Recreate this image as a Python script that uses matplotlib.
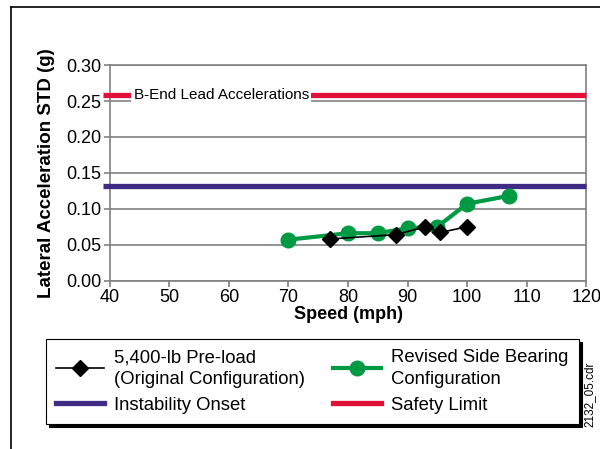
import matplotlib
matplotlib.use("Agg")
import matplotlib.pyplot as plt
from matplotlib.lines import Line2D

plt.rcParams['font.family'] = ['Liberation Sans', 'DejaVu Sans']

# data
orig_speed = [77, 88, 93, 95.5, 100]
orig_std = [0.058, 0.064, 0.075, 0.067, 0.075]

revised_speed = [70, 80, 85, 90, 95, 100, 107]
revised_std = [0.057, 0.066, 0.066, 0.073, 0.075, 0.107, 0.118]

instability_onset = 0.132
safety_limit = 0.258

red = '#E0103A'
purple = '#3F2A84'
green = '#009A44'
grey = '#808080'

fig = plt.figure(figsize=(6, 4.49), dpi=100)
ax = fig.add_axes([0.183, 0.375, 0.794, 0.48])

ax.set_xlim(40, 120)
ax.set_ylim(0, 0.30)
ax.set_xticks(range(40, 121, 10))
ax.set_yticks([0, 0.05, 0.10, 0.15, 0.20, 0.25, 0.30])
ax.set_yticklabels(['0.00', '0.05', '0.10', '0.15', '0.20', '0.25', '0.30'])
ax.grid(axis='y', color=grey, lw=1.2)
ax.set_axisbelow(True)
for s in ax.spines.values():
    s.set_color(grey)
    s.set_linewidth(1.2)
ax.tick_params(axis='both', labelsize=13, color=grey, length=4, width=1.2, pad=2)

# limit lines, with a small stub to the left of the axis
ax.plot([38.8, 120], [safety_limit, safety_limit], color=red, lw=3.8,
        clip_on=False, solid_capstyle='butt', zorder=3)
ax.plot([38.8, 120], [instability_onset, instability_onset], color=purple, lw=3.8,
        clip_on=False, solid_capstyle='butt', zorder=3)
ax.text(44, safety_limit, "B-End Lead Accelerations", fontsize=11, va='center', ha='left',
        bbox=dict(facecolor='white', edgecolor='none', pad=1.5), zorder=4)

ax.plot(revised_speed, revised_std, color=green, lw=3, marker='o', markersize=10.5, zorder=5)
ax.plot(orig_speed, orig_std, color='black', lw=1.2, marker='D', markersize=8, zorder=6)

ax.set_xlabel("Speed (mph)", fontsize=13, fontweight='bold', labelpad=0)
ax.set_ylabel("Lateral Acceleration STD (g)", fontsize=13.5, fontweight='bold', labelpad=8)

handles = [
    Line2D([], [], color='black', lw=1.2, marker='D', markersize=8),
    Line2D([], [], color=purple, lw=3.8),
    Line2D([], [], color=green, lw=3, marker='o', markersize=10.5),
    Line2D([], [], color=red, lw=3.8),
]
labels = ["5,400-lb Pre-load\n(Original Configuration)", "Instability Onset",
          "Revised Side Bearing\nConfiguration", "Safety Limit"]
leg = fig.legend(handles, labels, ncol=2, loc='upper left',
                 bbox_to_anchor=(0.0767, 0.245),
                 fontsize=13.3, handlelength=2.6, handletextpad=0.55,
                 columnspacing=1.5, labelspacing=0.5, borderpad=0.55,
                 fancybox=False, shadow={'color': 'black', 'alpha': 1},
                 borderaxespad=0)
for t in leg.get_texts():
    t.set_linespacing(1.35)
leg.get_frame().set_edgecolor('black')
leg.get_frame().set_linewidth(0.8)

fig.text(0.983, 0.122, "2132_05.cdr", rotation=90, fontsize=8.5, ha='center', va='center')

# outer frame (left and top edges)
fig.add_artist(Line2D([0.018, 0.018], [0.0, 0.985], color='black', lw=1.2))
fig.add_artist(Line2D([0.018, 1.0], [0.985, 0.985], color='black', lw=1.2))

fig.savefig("out.png", dpi=100)
